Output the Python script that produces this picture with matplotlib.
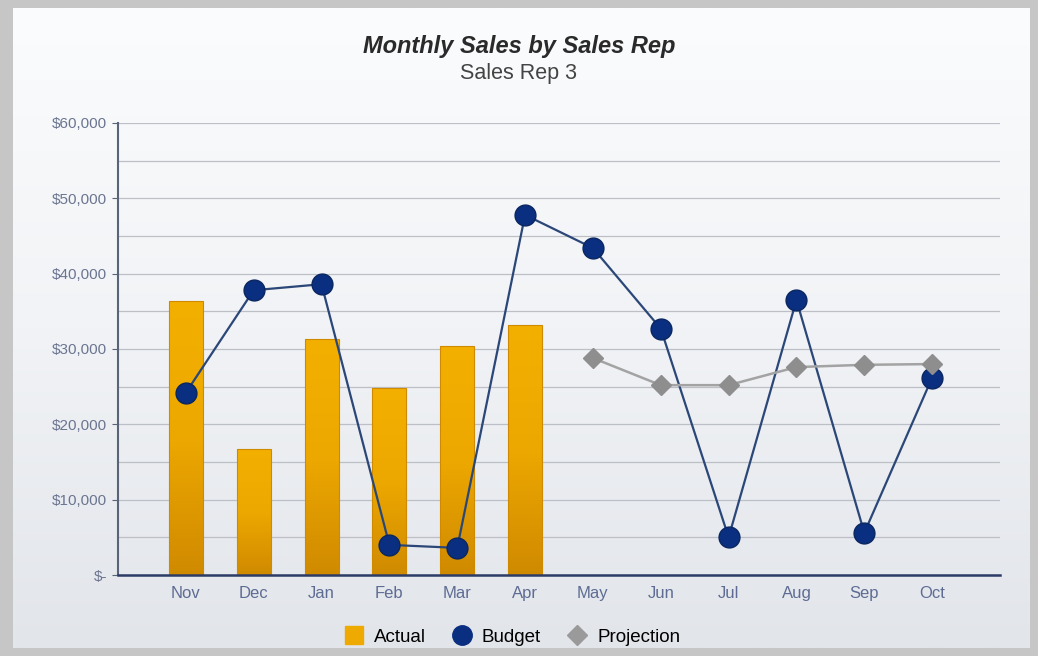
import numpy as np
import matplotlib.pyplot as plt
from matplotlib.lines import Line2D
from matplotlib.ticker import FuncFormatter, MultipleLocator

plt.rcParams["font.family"] = ["Liberation Sans", "DejaVu Sans"]

# --- data ---
months = ["Nov", "Dec", "Jan", "Feb", "Mar", "Apr",
          "May", "Jun", "Jul", "Aug", "Sep", "Oct"]
actual = [36400, 16700, 31300, 24800, 30400, 33200,
          np.nan, np.nan, np.nan, np.nan, np.nan, np.nan]
budget = [24200, 37800, 38600, 4000, 3600, 47800,
          43400, 32700, 5000, 36500, 5600, 26200]
projection = [np.nan, np.nan, np.nan, np.nan, np.nan, np.nan,
              28800, 25200, 25200, 27600, 27900, 28000]

fig = plt.figure(figsize=(10.38, 6.56), dpi=100)
fig.patch.set_facecolor("#c6c6c6")

# inner panel with a soft vertical gradient
bg = fig.add_axes([13 / 1038, 8 / 656, 1017 / 1038, 640 / 656])
grad = np.linspace(0, 1, 256).reshape(-1, 1)
bg.imshow(grad, aspect="auto", extent=[0, 1, 0, 1], origin="lower",
          cmap=plt.matplotlib.colors.LinearSegmentedColormap.from_list(
              "bg", ["#e2e5ea", "#f1f3f6", "#fbfcfd"]))
bg.set_axis_off()
bg.set_zorder(-10)

ax = fig.add_axes([118 / 1038, (656 - 575) / 656, 882 / 1038, 452 / 656])
ax.patch.set_alpha(0)

x = np.arange(len(months))

# bars with a gradient fill
bars = ax.bar(x, actual, width=0.5, color="none", edgecolor="#d08a00",
              linewidth=0.8, zorder=2)
bar_cmap = plt.matplotlib.colors.LinearSegmentedColormap.from_list(
    "bar", ["#d08a00", "#eda800", "#f3b000"])
for b in bars:
    h = b.get_height()
    if np.isnan(h):
        continue
    im = ax.imshow(grad, aspect="auto", cmap=bar_cmap, origin="lower",
                   extent=[b.get_x(), b.get_x() + b.get_width(), 0, h],
                   zorder=1.9)
    im.set_clip_path(b)

ax.plot(x, budget, color="#2b4778", linewidth=1.6, marker="o",
        markersize=15, markerfacecolor="#0b2f80", markeredgecolor="#0a2660",
        markeredgewidth=1, zorder=3)
ax.plot(x, projection, color="#a3a3a3", linewidth=1.8, marker="D",
        markersize=10, markerfacecolor="#8e8e8e", markeredgecolor="#8e8e8e",
        zorder=4)

ax.set_xlim(-1, 12)
ax.set_ylim(0, 60000)
ax.set_xticks(x)
ax.set_xticklabels(months)
ax.yaxis.set_major_locator(MultipleLocator(10000))
ax.yaxis.set_minor_locator(MultipleLocator(5000))
ax.yaxis.set_major_formatter(
    FuncFormatter(lambda v, p: "$-" if v == 0 else "${:,.0f}".format(v)))
ax.grid(True, which="both", axis="y", color="#bcbfc5", linewidth=0.9)
ax.set_axisbelow(True)

for s in ["top", "right"]:
    ax.spines[s].set_visible(False)
ax.spines["left"].set_color("#5a6478")
ax.spines["left"].set_linewidth(1.5)
ax.spines["bottom"].set_color("#2c3c66")
ax.spines["bottom"].set_linewidth(1.8)

ax.tick_params(axis="y", which="both", length=0, labelsize=11,
               labelcolor="#6b7590", pad=4)
ax.tick_params(axis="y", which="major", length=4, color="#5a6478")
ax.tick_params(axis="x", length=0, labelsize=12, labelcolor="#5e6c94",
               pad=8)

fig.text(0.5, 1 - 47 / 656, "Monthly Sales by Sales Rep", ha="center",
         va="center", fontsize=17, fontweight="bold", fontstyle="italic",
         color="#2a2a2a")
fig.text(0.5, 1 - 74 / 656, "Sales Rep 3", ha="center", va="center",
         fontsize=15.5, color="#444444")

handles = [
    Line2D([], [], linestyle="none", marker="s", markersize=13,
           markerfacecolor="#eeaa00", markeredgecolor="#eeaa00"),
    Line2D([], [], linestyle="none", marker="o", markersize=14,
           markerfacecolor="#0b2f80", markeredgecolor="#0b2f80"),
    Line2D([], [], linestyle="none", marker="D", markersize=10,
           markerfacecolor="#9a9a9a", markeredgecolor="#9a9a9a"),
]
fig.legend(handles, ["Actual", "Budget", "Projection"], loc="center",
           bbox_to_anchor=(510 / 1038, 1 - 637 / 656), ncol=3, frameon=False,
           handletextpad=0.3, columnspacing=1.2, handlelength=1.5,
           prop={"size": 13.5})

fig.savefig("out.png", dpi=100, facecolor=fig.get_facecolor())
